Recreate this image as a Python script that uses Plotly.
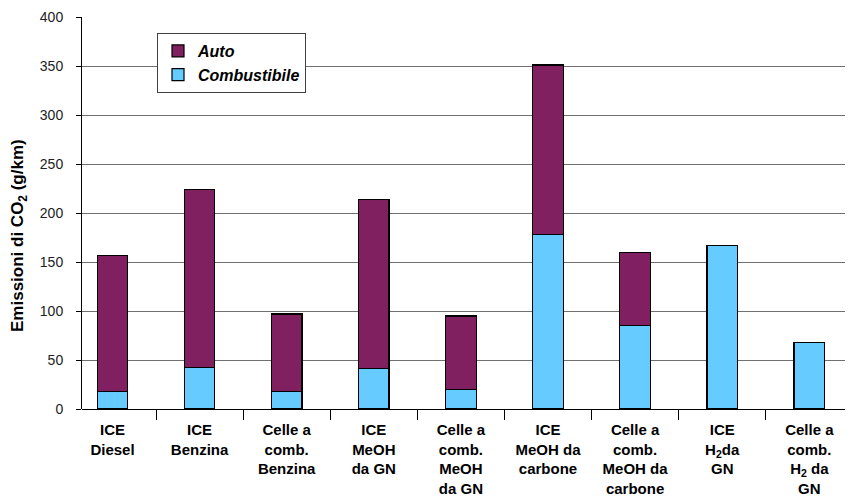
import plotly.graph_objects as go

# categories (x axis) and the two stacked series, in g/km
categories = [
    "ICE<br>Diesel",
    "ICE<br>Benzina",
    "Celle a<br>comb.<br>Benzina",
    "ICE<br>MeOH<br>da GN",
    "Celle a<br>comb.<br>MeOH<br>da GN",
    "ICE<br>MeOH da<br>carbone",
    "Celle a<br>comb.<br>MeOH da<br>carbone",
    "ICE<br>H<sub>2</sub>da<br>GN",
    "Celle a<br>comb.<br>H<sub>2</sub> da<br>GN",
]
combustibile = [18, 42, 18, 41, 20, 178, 85, 167, 68]
auto = [139, 182, 79, 173, 75, 173, 75, None, None]
y_ticks = [0, 50, 100, 150, 200, 250, 300, 350, 400]

FONT = "Arial, Liberation Sans, sans-serif"
# page has an 8px body margin, so the figure is a bit smaller than the window
OFF = 8
W, H = 853 - OFF, 497 - OFF
# plot area in window pixels: x 82..852, y 17..409
L, R, T, B = 82 - OFF, W - (852 - OFF), 17 - OFF, H - (409 - OFF)
PW, PH = W - L - R, H - T - B

fig = go.Figure()
fig.add_trace(
    go.Bar(
        x=categories,
        y=combustibile,
        name="<b><i>Combustibile</i></b>",
        marker=dict(color="#66CCFF", line=dict(color="#000000", width=1.2)),
        width=0.35,
    )
)
fig.add_trace(
    go.Bar(
        x=categories,
        y=auto,
        name="<b><i>Auto</i></b>",
        marker=dict(color="#802060", line=dict(color="#000000", width=1.2)),
        width=0.35,
    )
)

fig.update_layout(
    width=W,
    height=H,
    margin=dict(l=L, r=R, t=T, b=B, pad=0, autoexpand=False),
    barmode="stack",
    plot_bgcolor="white",
    paper_bgcolor="white",
    font=dict(family=FONT, color="#000000", size=13),
    legend=dict(
        x=(157 - 82) / PW,
        y=(409 - 33) / PH,
        xanchor="left",
        yanchor="top",
        traceorder="reversed",
        bgcolor="white",
        bordercolor="#404040",
        borderwidth=1,
        font=dict(family=FONT, size=16, color="#000000"),
        itemwidth=30,
        tracegroupgap=0,
    ),
    showlegend=True,
)

fig.update_xaxes(
    type="category",
    range=[-0.35, 8.49],
    tickson="boundaries",
    ticks="outside",
    ticklen=10,
    tickcolor="#000000",
    tickwidth=1,
    ticklabelstandoff=10,
    showgrid=False,
    showline=False,
    automargin=False,
    tickfont=dict(family=FONT, size=15, color="#000000", weight="bold"),
)
fig.update_yaxes(
    range=[0, 400],
    tickvals=y_ticks,
    ticks="outside",
    ticklen=5,
    tickcolor="#000000",
    ticklabelstandoff=10,
    showline=True,
    linecolor="#000000",
    linewidth=1,
    showgrid=True,
    gridcolor="#707070",
    gridwidth=1,
    zeroline=True,
    zerolinecolor="#000000",
    zerolinewidth=1,
    automargin=False,
    tickfont=dict(family=FONT, size=14, color="#222222"),
)

fig.add_annotation(
    text="<b>Emissioni di CO<sub>2</sub> (g/km)</b>",
    textangle=-90,
    xref="paper",
    yref="paper",
    x=(19 - 82) / PW,
    y=(409 - 236) / PH,
    xanchor="center",
    yanchor="middle",
    showarrow=False,
    font=dict(family=FONT, size=17, color="#000000"),
)

fig.write_html("out.html")
